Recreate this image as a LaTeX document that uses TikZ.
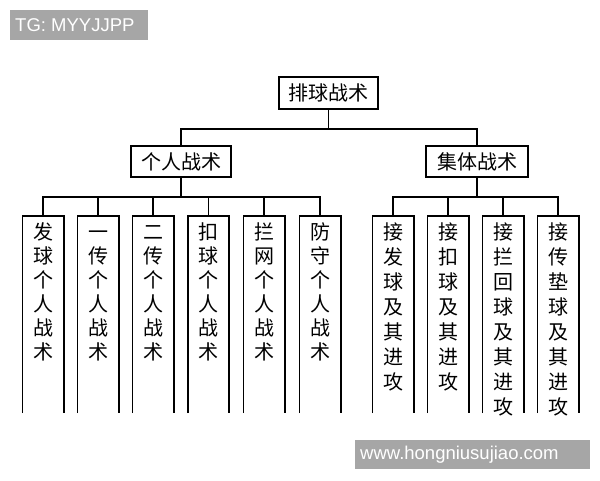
\documentclass[tikz,border=0pt]{standalone}
\usepackage{fontspec}
\setmainfont{Liberation Sans}
\newfontfamily\cjk{Noto Sans CJK SC}
\definecolor{wmgray}{HTML}{A6A6A6}
\begin{document}
\begin{tikzpicture}[x=1pt,y=-1pt,
  conn/.style={line width=1.6pt,black},
  topbox/.style={draw,line width=1.6pt,minimum height=31pt,inner sep=0pt,font=\cjk\fontsize{20}{24}\selectfont},
  colbox/.style={minimum width=41pt,minimum height=197pt,inner sep=0pt},
  colchar/.style={anchor=base,inner sep=0pt,font=\cjk\fontsize{20}{24}\selectfont},
  wmbox/.style={fill=wmgray,text=white,inner sep=0pt,font=\fontsize{18.5}{20}\selectfont}
]
\useasboundingbox (0,0) rectangle (600,480);
\fill[white] (0,0) rectangle (600,480);

% watermarks
\node[wmbox,minimum width=138pt,minimum height=30pt] (wm1) at (79,25) {};
\node[text=white,anchor=west,inner sep=0pt,font=\fontsize{18.5}{20}\selectfont] (wm1t) at (15,25.5) {TG: MYYJJPP};
\node[wmbox,minimum width=235pt,minimum height=29pt] (wm2) at (472.5,454.5) {};
\node[text=white,anchor=west,inner sep=0pt,font=\fontsize{18.5}{20}\selectfont] (wm2t) at (360,454.5) {www.hongniusujiao.com};

% top level
\node[topbox,minimum width=99pt,minimum height=32pt] (root) at (328.5,93) {排球战术};
\node[topbox,minimum width=100pt] (ind) at (181,161.5) {个人战术};
\node[topbox,minimum width=102pt] (grp) at (477,161.5) {集体战术};

% columns
\foreach \n/\x/\s/\t in {a1/43/24/{发,球,个,人,战,术},a2/98/24/{一,传,个,人,战,术},a3/153/24/{二,传,个,人,战,术},a4/208.5/24/{扣,球,个,人,战,术},a5/264/24/{拦,网,个,人,战,术},a6/320/24/{防,守,个,人,战,术},b1/393/25/{接,发,球,及,其,进,攻},b2/448/25/{接,扣,球,及,其,进,攻},b3/503/25/{接,拦,回,球,及,其,进,攻},b4/558/25/{接,传,垫,球,及,其,进,攻}}{
  \node[colbox] (\n) at (\x,314.5) {};
  \draw[conn] (\n.south west) -- (\n.north west) -- (\n.north east) -- (\n.south east);
  \foreach \c [count=\i from 0] in \t {
    \node[colchar] (\n-\i) at (\x,239.6+\s*\i) {\c};
  }
}

% connectors
\draw[conn] (root.south) -- ++(0,19) -| (ind.north);
\draw[conn] (root.south) -- ++(0,19) -| (grp.north);
\foreach \c in {a1,a2,a3,a4,a5,a6}{
  \draw[conn] (ind.south) -- ++(0,19) -| (\c.north);
}
\foreach \c in {b1,b2,b3,b4}{
  \draw[conn] (grp.south) -- ++(0,19) -| (\c.north);
}
\end{tikzpicture}
\end{document}
